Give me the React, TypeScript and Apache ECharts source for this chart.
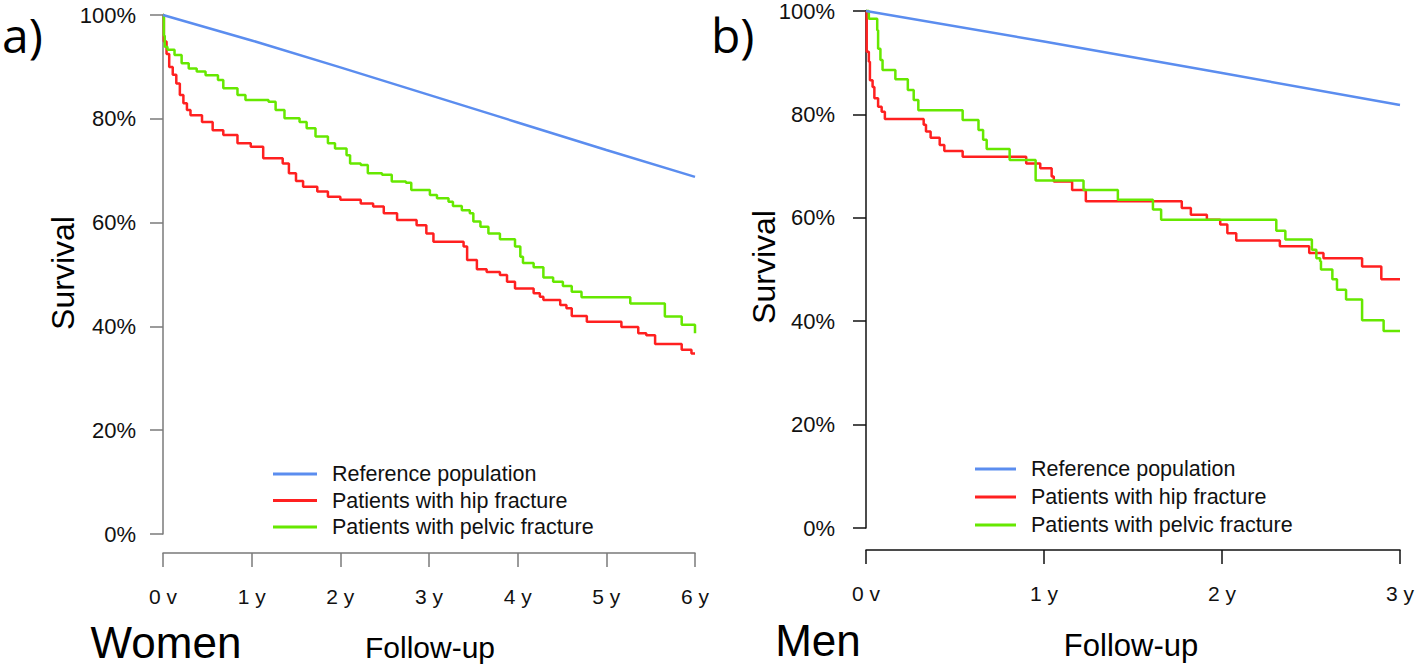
import React, { useEffect, useRef } from "react";
import * as echarts from "echarts";

// ---------- data ----------
const SERIES_NAMES = [
  "Reference population",
  "Patients with hip fracture",
  "Patients with pelvic fracture",
];
const COLORS = ["#5b8def", "#ff2020", "#66e800"];

const WOMEN_X_TICKS = ["0 v", "1 y", "2 y", "3 y", "4 y", "5 y", "6 y"];
const MEN_X_TICKS = ["0 v", "1 y", "2 y", "3 y"];

// Women (panel a): [years, survival %]
const womenReference = [
  [0, 100], [1, 95.1], [2, 89.9], [3, 84.6], [4, 79.3], [5, 74.0], [6, 68.8],
];
const womenHip = [
  [0, 100], [0.01, 94.9], [0.04, 92.5], [0.07, 90.0], [0.11, 88.5], [0.15, 86.8],
  [0.19, 84.6], [0.23, 83.0], [0.27, 81.7], [0.31, 80.7], [0.44, 79.4], [0.56, 77.8],
  [0.68, 76.9], [0.84, 75.3], [0.99, 74.6], [1.13, 72.4], [1.35, 71.4], [1.42, 69.5],
  [1.5, 68.0], [1.58, 66.9], [1.74, 66.0], [1.86, 65.0], [2.0, 64.4], [2.23, 63.7],
  [2.37, 63.1], [2.49, 61.8], [2.64, 60.5], [2.86, 59.5], [2.97, 57.9], [3.05, 56.3],
  [3.39, 55.4], [3.43, 52.8], [3.54, 51.0], [3.65, 50.5], [3.8, 49.9], [3.88, 48.6],
  [3.97, 47.3], [4.18, 46.4], [4.25, 45.7], [4.29, 45.1], [4.48, 44.1], [4.55, 43.5],
  [4.61, 42.0], [4.78, 40.9], [5.17, 39.9], [5.36, 38.7], [5.45, 38.3], [5.55, 36.6],
  [5.85, 35.5], [5.96, 34.8], [6.0, 34.8],
];
const womenPelvic = [
  [0, 100], [0.01, 96.0], [0.02, 93.9], [0.05, 93.3], [0.13, 92.3], [0.21, 90.7],
  [0.29, 89.7], [0.38, 89.1], [0.48, 88.4], [0.62, 87.5], [0.68, 85.9], [0.84, 84.6],
  [0.93, 83.6], [1.19, 83.3], [1.27, 81.7], [1.37, 80.1], [1.54, 79.4], [1.62, 78.2],
  [1.72, 76.6], [1.86, 75.3], [1.94, 74.3], [2.07, 73.0], [2.11, 71.4], [2.23, 71.1],
  [2.31, 69.5], [2.47, 69.2], [2.58, 67.9], [2.74, 67.7], [2.8, 66.3], [3.01, 65.3],
  [3.09, 64.7], [3.22, 64.0], [3.27, 63.2], [3.37, 62.4], [3.46, 61.8], [3.5, 60.2],
  [3.58, 59.2], [3.67, 57.9], [3.8, 56.8], [3.97, 55.4], [4.03, 53.4], [4.06, 52.2],
  [4.18, 51.4], [4.29, 49.4], [4.4, 48.6], [4.51, 47.8], [4.61, 46.7], [4.72, 45.6],
  [5.27, 44.4], [5.66, 41.9], [5.85, 40.3], [6.0, 38.7],
];

// Men (panel b): [years, survival %]
const menReference = [
  [0, 100], [1, 94.1], [2, 88.0], [3, 81.8],
];
const menHip = [
  [0, 100], [0.004, 92.1], [0.016, 90.2], [0.022, 86.6], [0.037, 85.3], [0.047, 83.1],
  [0.068, 81.5], [0.088, 80.5], [0.106, 79.1], [0.324, 78.0], [0.337, 76.7],
  [0.363, 75.5], [0.414, 74.1], [0.44, 72.9], [0.543, 71.8], [0.9, 70.5], [0.979, 69.6],
  [1.043, 68.0], [1.055, 67.0], [1.158, 65.4], [1.235, 63.2], [1.774, 61.9],
  [1.825, 60.6], [1.915, 59.6], [1.99, 58.7], [2.03, 57.0], [2.08, 55.6], [2.325, 54.5],
  [2.49, 53.2], [2.57, 52.2], [2.787, 50.6], [2.895, 48.1], [3.0, 48.1],
];
const menPelvic = [
  [0, 100], [0.016, 98.5], [0.063, 96.3], [0.068, 92.7], [0.081, 90.5], [0.093, 88.6],
  [0.165, 86.8], [0.235, 84.7], [0.268, 82.8], [0.294, 80.8], [0.543, 78.9],
  [0.632, 77.0], [0.658, 75.1], [0.678, 73.3], [0.807, 71.2], [0.953, 67.2],
  [1.222, 65.4], [1.415, 63.5], [1.612, 61.6], [1.658, 59.6], [2.305, 57.5],
  [2.356, 55.8], [2.505, 53.8], [2.53, 52.2], [2.551, 51.6], [2.556, 50.0], [2.62, 48.1],
  [2.646, 46.1], [2.697, 44.2], [2.787, 40.2], [2.908, 38.1], [3.0, 38.1],
];

const FONT = "'Liberation Sans', Arial, sans-serif";

export default function App() {
  const ref = useRef<HTMLDivElement>(null);

  useEffect(() => {
    if (!ref.current) return;
    const chart = echarts.init(ref.current, undefined, { renderer: "svg" });

    const xAxisBase = (idx: number, max: number, ticks: string[], color: string, offset: number, margin: number) => ({
      type: "value",
      gridIndex: idx,
      min: 0,
      max,
      interval: 1,
      position: "bottom",
      offset,
      axisLine: { show: true, onZero: false, lineStyle: { color, width: 1.5 } },
      axisTick: { show: true, length: 14, lineStyle: { color, width: 1.5 } },
      splitLine: { show: false },
      axisLabel: {
        margin,
        color: "#111",
        fontFamily: FONT,
        fontSize: 21,
        formatter: (v: number) => ticks[Math.round(v)] ?? "",
      },
    });

    const yAxisBase = (idx: number, color: string, margin: number) => ({
      type: "value",
      gridIndex: idx,
      min: 0,
      max: 100,
      interval: 20,
      axisLine: { show: true, onZero: false, lineStyle: { color, width: 1.5 } },
      axisTick: { show: true, length: 13, lineStyle: { color, width: 1.5 } },
      splitLine: { show: false },
      axisLabel: {
        margin,
        color: "#111",
        fontFamily: FONT,
        fontSize: 22,
        padding: [5, 0, 0, 0],
        formatter: (v: number) => `${v}%`,
      },
    });

    const lineSeries = (name: string, color: string, data: number[][], idx: number, step: boolean) => ({
      type: "line",
      name,
      xAxisIndex: idx,
      yAxisIndex: idx,
      data,
      step: step ? "end" : false,
      showSymbol: false,
      symbol: "none",
      clip: false,
      lineStyle: { color, width: 2.5 },
      itemStyle: { color },
      z: name === SERIES_NAMES[0] ? 3 : 2,
    });

    const legendBase = (left: number, top: number, itemWidth: number, gap: number) => ({
      orient: "vertical",
      left,
      top,
      itemWidth,
      itemHeight: 3,
      itemGap: gap,
      icon: "rect",
      selectedMode: false,
      data: SERIES_NAMES,
      textStyle: {
        color: "#111",
        fontFamily: FONT,
        fontSize: 21.5,
        lineHeight: 22,
        padding: [0, 0, 0, 10],
      },
    });

    const text = (x: number, y: number, s: string, size: number, opts: any = {}) => ({
      type: "text",
      x,
      y,
      rotation: opts.rotation ?? 0,
      style: {
        text: s,
        fill: "#000",
        fontFamily: opts.font ?? FONT,
        fontSize: size,
        lineHeight: size,
        align: opts.align ?? "center",
        verticalAlign: "middle",
      },
    });

    chart.setOption({
      animation: false,
      backgroundColor: "#fff",
      color: COLORS,
      grid: [
        { left: 163, top: 15, width: 532, height: 519 },
        { left: 866, top: 9, width: 534, height: 519 },
      ],
      xAxis: [
        xAxisBase(0, 6, WOMEN_X_TICKS, "#7a7a7a", 19, 33),
        xAxisBase(1, 3, MEN_X_TICKS, "#111", 22, 33),
      ],
      yAxis: [yAxisBase(0, "#7a7a7a", 27), yAxisBase(1, "#111", 31)],
      legend: [legendBase(268, 458, 44, 4.5), legendBase(970, 453, 41, 6)],
      series: [
        lineSeries(SERIES_NAMES[0], COLORS[0], womenReference, 0, false),
        lineSeries(SERIES_NAMES[1], COLORS[1], womenHip, 0, true),
        lineSeries(SERIES_NAMES[2], COLORS[2], womenPelvic, 0, true),
        lineSeries(SERIES_NAMES[0], COLORS[0], menReference, 1, false),
        lineSeries(SERIES_NAMES[1], COLORS[1], menHip, 1, true),
        lineSeries(SERIES_NAMES[2], COLORS[2], menPelvic, 1, true),
      ],
      graphic: [
        text(2, 34, "a)", 48, { align: "left", font: "'Open Sans', sans-serif" }),
        text(711, 34, "b)", 48, { align: "left", font: "'Open Sans', sans-serif" }),
        text(63, 273, "Survival", 32, { rotation: Math.PI / 2 }),
        text(764, 267, "Survival", 32, { rotation: Math.PI / 2 }),
        text(166, 642, "Women", 44),
        text(818, 640, "Men", 44),
        text(430, 647, "Follow-up", 30),
        text(1131, 645, "Follow-up", 31),
      ],
    });

    return () => chart.dispose();
  }, []);

  return (
    <div
      ref={ref}
      style={{ position: "absolute", left: 0, top: 0, width: 1418, height: 665 }}
    />
  );
}
